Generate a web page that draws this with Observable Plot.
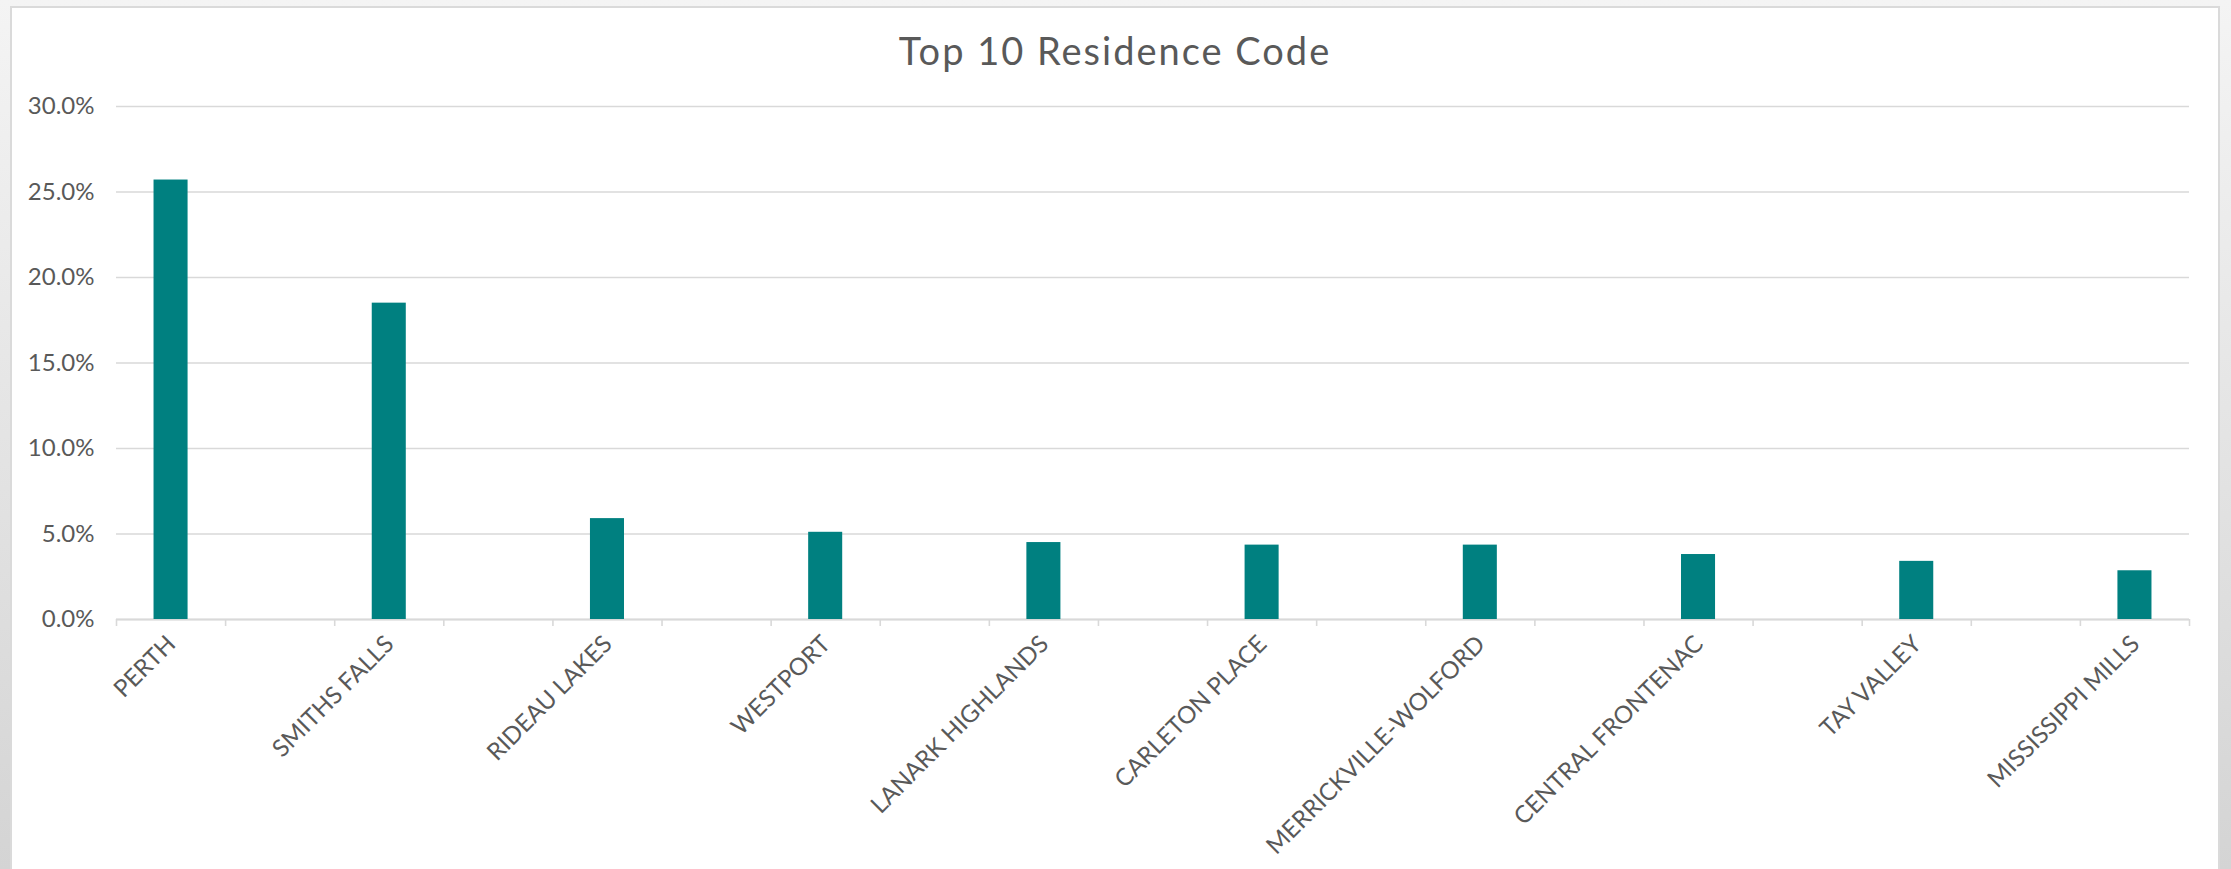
<!DOCTYPE html>
<html><head><meta charset="utf-8">
<script src="https://cdn.jsdelivr.net/npm/d3@7"></script>
<script src="https://cdn.jsdelivr.net/npm/@observablehq/plot@0.6"></script>
<style>
html,body{margin:0;padding:0;width:2231px;height:869px;overflow:hidden;}
body{background:linear-gradient(#f4f4f4,#d4d4d4);position:relative;font-family:Lato,sans-serif;}
#frame{position:absolute;left:10px;top:6px;width:2210px;height:900px;background:#fff;border:2px solid #dadada;box-sizing:border-box;}
#title{position:absolute;left:10px;top:31px;width:2210px;height:38px;line-height:38px;text-align:center;color:#595959;font-size:38px;letter-spacing:2px;font-family:Lato,sans-serif;}
#chart{position:absolute;left:0;top:80px;}
</style></head>
<body>
<div id="frame"></div>
<div id="title">Top 10 Residence Code</div>
<div id="chart"></div>
<script>
// Data
const categories = ["PERTH","SMITHS FALLS","RIDEAU LAKES","WESTPORT","LANARK HIGHLANDS","CARLETON PLACE","MERRICKVILLE-WOLFORD","CENTRAL FRONTENAC","TAY VALLEY","MISSISSIPPI MILLS"];
const values = [25.7, 18.5, 5.9, 5.1, 4.5, 4.35, 4.35, 3.8, 3.4, 2.85];
// category slots on the axis (blank slots lie between labelled ones)
const slotIndex = [0, 2, 4, 6, 8, 10, 12, 14, 16, 18];
const slotCount = 19;
const yTicks = [0, 5, 10, 15, 20, 25, 30];

const data = categories.map((name, i) => ({name, value: values[i], pos: slotIndex[i]}));
const boundaries = d3.range(0, slotCount + 1);
const halfBar = 0.156;

const chart = Plot.plot({
  width: 2231,
  height: 789,
  marginLeft: 116,
  marginRight: 42,
  marginTop: 26,
  marginBottom: 250,
  style: {fontFamily: "Lato, sans-serif", color: "#595959", background: "transparent", overflow: "visible"},
  x: {domain: [0, slotCount]},
  y: {domain: [0, 30]},
  marks: [
    Plot.gridY(yTicks, {stroke: "#d9d9d9", strokeOpacity: 1, strokeWidth: 1.6}),
    Plot.axisY(yTicks, {tickSize: 0, tickPadding: 22, fontSize: 24, label: null, tickFormat: d => d.toFixed(1) + "%"}),
    Plot.ruleY([0], {stroke: "#d9d9d9", strokeWidth: 2}),
    Plot.axisX(boundaries, {tickSize: 7, tickFormat: () => "", label: null, stroke: "#d9d9d9", strokeWidth: 1.6}),
    Plot.rect(data, {x1: d => d.pos + 0.5 - halfBar, x2: d => d.pos + 0.5 + halfBar, y1: 0, y2: "value", fill: "#008080"}),
    Plot.text(data, {x: d => d.pos + 0.5, frameAnchor: "bottom", text: "name", rotate: -45, textAnchor: "end", dx: 6, dy: 26, fontSize: 24, fill: "#595959"})
  ]
});
document.getElementById("chart").appendChild(chart);
</script>
</body></html>
